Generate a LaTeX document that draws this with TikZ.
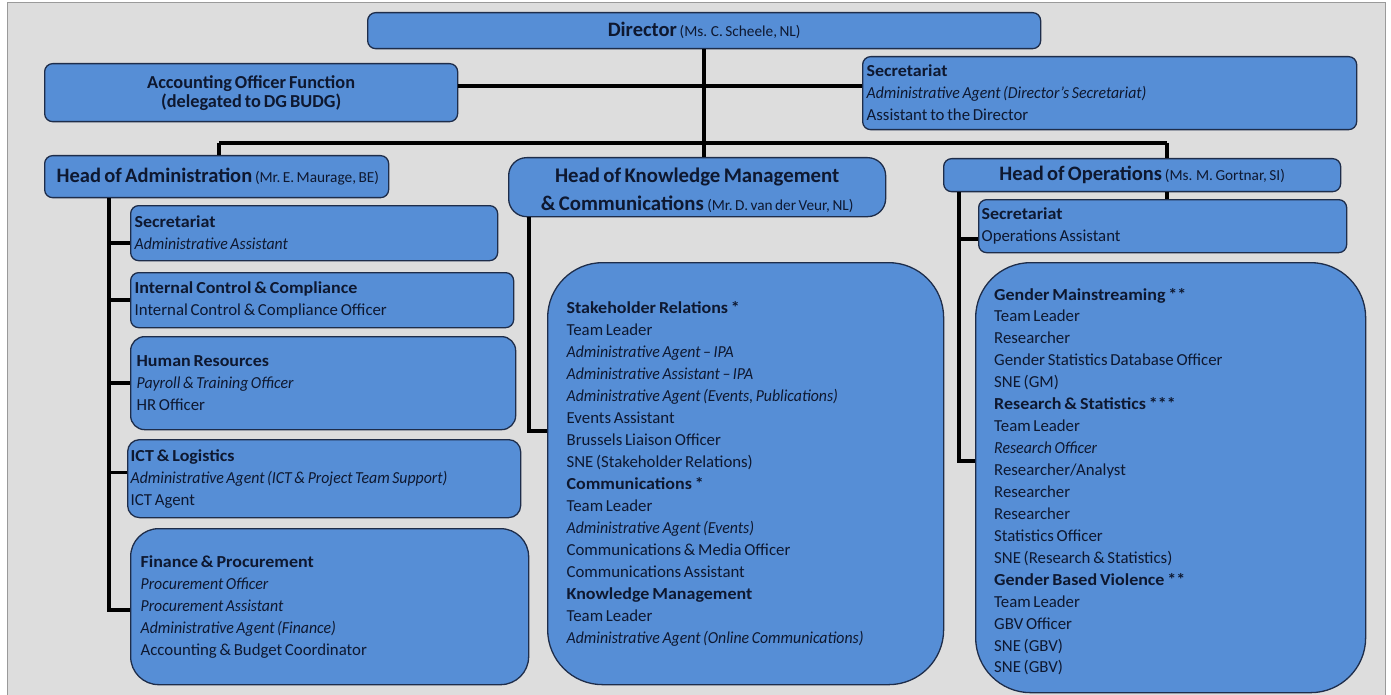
\documentclass[tikz,border=0pt]{standalone}
\usepackage{fontspec}
\setmainfont[WordSpace={0.72}, ItalicFeatures={FakeStretch=0.94}]{Carlito}
\newfontfamily\subfam[WordSpace={0.72}, BoldFeatures={FakeStretch=1.07}]{Carlito}
\newcommand\sub[1]{{\subfam\bfseries #1}}
\definecolor{boxblue}{HTML}{568ED6}
\definecolor{boxedge}{HTML}{1E2D4A}
\definecolor{txtc}{HTML}{0E1830}
\definecolor{panelc}{HTML}{DDDDDD}
\definecolor{paneledge}{HTML}{9A9A9A}
\newcommand\orgbody{\fontsize{16.8}{22}\selectfont}
\newcommand\orghead{\fontsize{20.5}{24}\selectfont\bfseries}
\newcommand\orgsmall{\fontsize{15.3}{16}\selectfont}
\begin{document}
\begin{tikzpicture}[x=1pt,y=-1pt,
  orgbox/.style={draw=boxedge, line width=1.3pt, fill=boxblue, rounded corners=8pt,
    text=txtc, inner xsep=4pt, inner ysep=2pt, anchor=north west, align=flush left, font=\orgbody},
  bigbox/.style={orgbox, rounded corners=55pt, inner xsep=19pt},
  plaintext/.style={text=txtc, inner sep=0pt, font=\orgbody},
  link/.style={line width=3.6pt, black}]
\useasboundingbox (0,0) rectangle (1391,695);
\fill[white] (0,0) rectangle (1391,695);
\draw[fill=panelc, draw=paneledge, line width=1pt] (7,3) rectangle (1385,710);

% top level
\node[orgbox, minimum width=673pt, minimum height=36pt, text width=665pt, align=flush center] (dir) at (367,12)
  {{\orghead Director}\,{\orgsmall(Ms. C. Scheele, NL)}};
\node[orgbox, minimum width=413pt, minimum height=58pt, text width=405pt, align=flush center,
  font=\fontsize{18.3}{19}\selectfont\bfseries] (acc) at (44,63)
  {Accounting Officer Function\\(delegated to DG BUDG)};
\node[orgbox, minimum width=494pt, minimum height=73pt, text width=486pt] (sec0) at (862,56)
  {\sub{Secretariat}\\\textit{Administrative Agent (Director's Secretariat)}\\Assistant to the Director};

% heads
\node[orgbox, minimum width=344pt, minimum height=42pt, text width=336pt] (ha) at (44,155)
  {\hspace*{8pt}{\orghead Head of Administration}\,{\orgsmall(Mr.\,E. Maurage, BE)}};
\node[orgbox, rounded corners=18pt, minimum width=377pt, minimum height=59pt] (hkm) at (508,157) {};
\node[plaintext, align=center, font=\fontsize{20.8}{28}\selectfont, yshift=-3.5pt] (hkmtext) at (hkm.center)
  {\textbf{Head of Knowledge Management}\\\textbf{\& Communications}\,{\orgsmall(Mr.\,D. van der Veur, NL)}};
\node[orgbox, minimum width=397pt, minimum height=33pt, text width=389pt, align=flush center] (hops) at (943,158)
  {{\orghead Head of Operations}\,{\orgsmall(Ms. M. Gortnar, SI)}};

% administration units
\node[orgbox, minimum width=367pt, minimum height=55pt, text width=359pt] (asec) at (130,205)
  {\sub{Secretariat}\\\textit{Administrative Assistant}};
\node[orgbox, minimum width=383pt, minimum height=55pt, text width=375pt] (icc) at (130,272)
  {\sub{Internal Control \& Compliance}\\Internal Control \& Compliance Officer};
\node[orgbox, rounded corners=14pt, inner xsep=6pt, minimum width=385pt, minimum height=93pt, text width=373pt] (hr) at (130,336)
  {\sub{Human Resources}\\\textit{Payroll \& Training Officer}\\HR Officer};
\node[orgbox, rounded corners=12pt, inner xsep=3pt, minimum width=393pt, minimum height=78pt, text width=387pt] (ict) at (127,439)
  {\sub{ICT \& Logistics}\\\textit{Administrative Agent (ICT \& Project Team Support)}\\ICT Agent};
\node[orgbox, rounded corners=28pt, inner xsep=10pt, minimum width=398pt, minimum height=156pt, text width=378pt] (fin) at (130,528)
  {\sub{Finance \& Procurement}\\\textit{Procurement Officer}\\\textit{Procurement Assistant}\\\textit{Administrative Agent (Finance)}\\Accounting \& Budget Coordinator};

% knowledge management
\node[bigbox, minimum width=396pt, minimum height=422pt, text width=358pt] (km) at (547,262)
  {\sub{Stakeholder Relations *}\\Team Leader\\\textit{Administrative Agent -- IPA}\\\textit{Administrative Assistant -- IPA}\\\textit{Administrative Agent (Events, Publications)}\\Events Assistant\\Brussels Liaison Officer\\SNE (Stakeholder Relations)\\\sub{Communications *}\\Team Leader\\\textit{Administrative Agent (Events)}\\Communications \& Media Officer\\Communications Assistant\\\sub{Knowledge Management}\\Team Leader\\\textit{Administrative Agent (Online Communications)}};

% operations
\node[orgbox, minimum width=368pt, minimum height=53pt, text width=362pt, inner xsep=3pt] (osec) at (978,199)
  {\sub{Secretariat}\\Operations Assistant};
\node[bigbox, minimum width=390pt, minimum height=430pt] (ops) at (975,262) {};
\node[plaintext, anchor=west, align=flush left, text width=352pt, font=\fontsize{16.8}{21.94}\selectfont, yshift=-4pt] (opstext) at ([xshift=19pt]ops.west)
  {\sub{Gender Mainstreaming **}\\Team Leader\\Researcher\\Gender Statistics Database Officer\\SNE (GM)\\\sub{Research \& Statistics ***}\\Team Leader\\\textit{Research Officer}\\Researcher/Analyst\\Researcher\\Researcher\\Statistics Officer\\SNE (Research \& Statistics)\\\sub{Gender Based Violence **}\\Team Leader\\GBV Officer\\SNE (GBV)\\SNE (GBV)};

% connectors
\coordinate (busL) at (219,143);
\coordinate (busR) at (1167,143);
\coordinate (busM) at (dir.south |- busL);
\coordinate (accy) at (705,86);
\draw[link] (dir.south) -- (busM);
\draw[link] (acc.east |- accy) -- (sec0.west |- accy);
\draw[link] (busL) -- (busR);
\draw[link] (busL) -- (busL |- ha.north);
\draw[link] (busM) -- (busM |- hkm.north);
\draw[link] (busR) -- (busR |- hops.north);
\draw[link] (busR |- hops.south) -- (busR |- osec.north);

\coordinate (aS) at (109,610);
\coordinate (b1) at ([yshift=-10pt]asec.west);
\coordinate (b2) at (icc.west);
\coordinate (b3) at (hr.west);
\coordinate (b4) at ([yshift=6pt]ict.west);
\draw[link] (ha.south -| aS) -- (aS) -- (aS -| fin.west);
\draw[link] (b1 -| aS) -- (b1);
\draw[link] (b2 -| aS) -- (b2);
\draw[link] (b3 -| aS) -- (b3);
\draw[link] (b4 -| aS) -- (b4);

\coordinate (kS) at (529,431);
\draw[link] (hkm.south -| kS) -- (kS) -- (kS -| km.west);

\coordinate (oS) at (959,461);
\coordinate (ob) at ([yshift=-13pt]osec.west);
\draw[link] (hops.south -| oS) -- (oS) -- (oS -| ops.west);
\draw[link] (ob -| oS) -- (ob);
\end{tikzpicture}
\end{document}
